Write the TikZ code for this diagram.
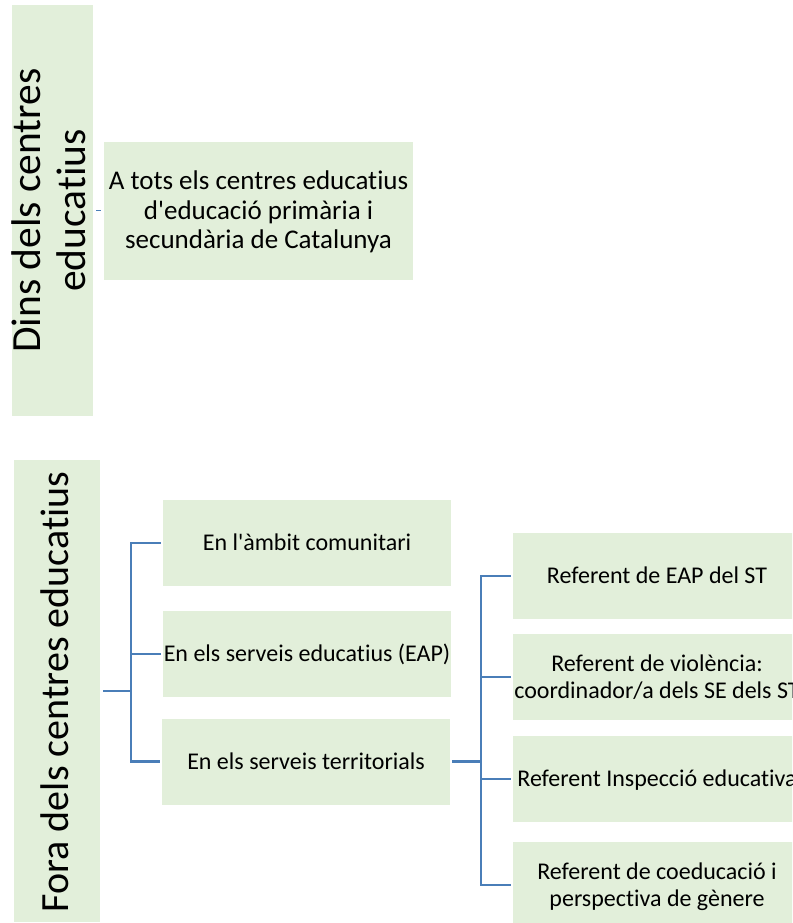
\documentclass[tikz,border=0pt]{standalone}
\usepackage{fontspec}
\setmainfont{Carlito}[Ligatures={NoCommon}]
\definecolor{boxgreen}{HTML}{E2EFDA}
\definecolor{linkblue}{HTML}{4A7EB8}
\newcommand{\boxtext}[1]{\makebox[0pt][c]{\raisebox{-2.5pt}[\height][\depth]{\begin{tabular}{@{}c@{}}#1\end{tabular}}}}
\tikzset{
  gbox/.style={rectangle, fill=boxgreen, inner sep=0pt, text=black,
    font=\fontsize{24}{26.5}\selectfont, minimum width=288pt, minimum height=86pt},
  catbox/.style={rectangle, fill=boxgreen, inner sep=0pt},
  cattext/.style={inner sep=0pt, align=center, text=black, rotate=90},
  conn/.style={draw=linkblue, line width=2.9pt},
  thinconn/.style={draw=linkblue, line width=1.6pt},
}
\begin{document}
\begin{tikzpicture}[x=1pt,y=-1pt]
\clip (0,0) rectangle (792,923);
\fill[white] (0,0) rectangle (792,923);

% left category boxes
\node[catbox, minimum width=81pt, minimum height=411pt] (dins) at (52.5,210.5) {};
\node[cattext, font=\fontsize{41.5}{45}\selectfont] (dinslabel) at (48.5,210.5) {Dins dels centres\\educatius};
\node[catbox, minimum width=86pt, minimum height=462pt] (fora) at (57,691) {};
\node[cattext, font=\fontsize{40}{45}\selectfont] (foralabel) at (55,692) {Fora dels centres educatius};

% top box
\node[gbox, font=\fontsize{27}{29.5}\selectfont, minimum width=309pt, minimum height=138pt] (atots) at (258.5,211)
  {\boxtext{A tots els centres educatius\\d\textquotesingle educació primària i\\secundària de Catalunya}};

% middle column
\node[gbox] (amb)  at (307,543)   {\boxtext{En l\textquotesingle àmbit comunitari}};
\node[gbox] (eap)  at (307,654)   {\boxtext{En els serveis educatius (EAP)}};
\node[gbox] (terr) at (306,761.5) {\boxtext{En els serveis territorials}};

% right column
\node[gbox] (r1) at (657,576) {\boxtext{Referent de EAP del ST}};
\node[gbox] (r2) at (657,677) {\boxtext{Referent de violència:\\coordinador/a dels SE dels ST}};
\node[gbox] (r3) at (657,779) {\boxtext{Referent Inspecció educativa}};
\node[gbox] (r4) at (657,885) {\boxtext{Referent de coeducació i\\perspectiva de gènere}};

% junctions
\coordinate (j1) at (131,691);
\coordinate (j2) at (481,761.5);

% connectors
\draw[thinconn, shorten <=3pt, shorten >=3pt] (dins.east) -- (dins.east -| atots.west);
\draw[conn, shorten <=3pt] (fora.east) -- (j1);
\draw[conn, shorten >=2pt] (j1) |- (amb.west);
\draw[conn, shorten >=2pt] (j1) |- (eap.west);
\draw[conn, shorten >=2pt] (j1) |- (terr.west);
\draw[conn, shorten <=2pt] (terr.east) -- (j2);
\draw[conn, shorten >=1.5pt] (j2) |- (r1.west);
\draw[conn, shorten >=1.5pt] (j2) |- (r2.west);
\draw[conn, shorten >=1.5pt] (j2) |- (r3.west);
\draw[conn, shorten >=1.5pt] (j2) |- (r4.west);
\end{tikzpicture}
\end{document}
